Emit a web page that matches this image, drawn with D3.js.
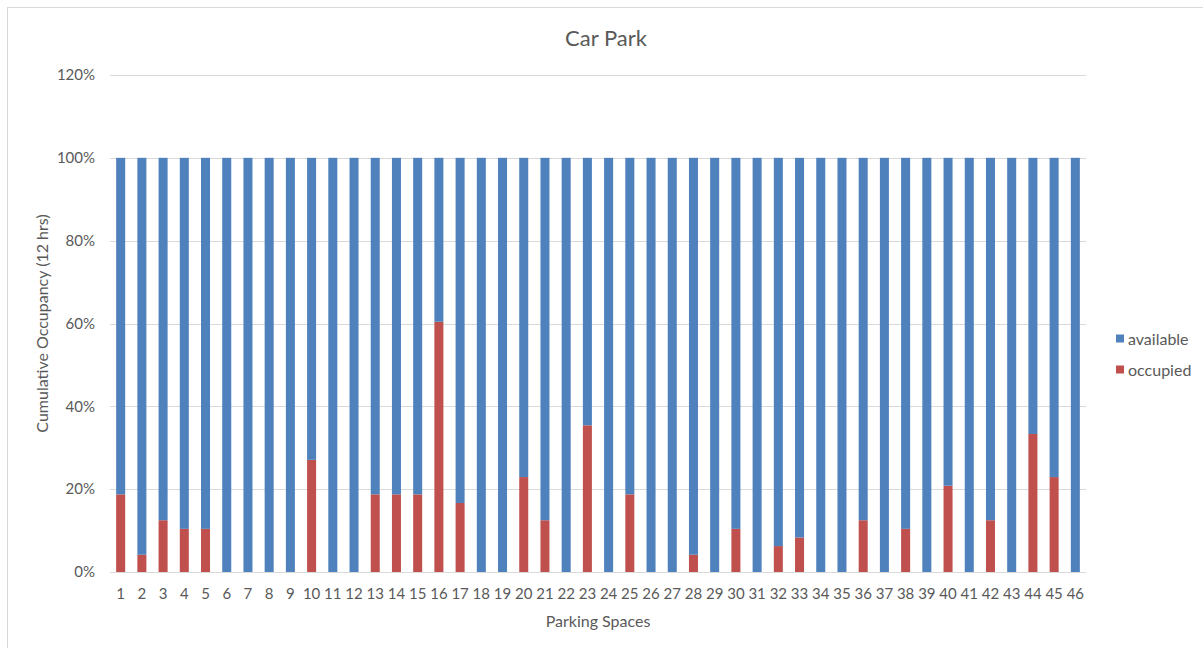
<!DOCTYPE html>
<html>
<head>
<meta charset="utf-8">
<script src="https://cdn.jsdelivr.net/npm/d3@7"></script>
<style>
  html, body { margin: 0; padding: 0; background: #fff; }
  svg text { font-family: Lato, "Open Sans", sans-serif; fill: #595959; }
</style>
</head>
<body>
<svg id="chart" width="1203" height="648"></svg>
<script>
// Parking spaces 1..46
const spaces = d3.range(1, 47).map(String);

// Share of the 12-hour window each space was occupied (%)
const occupied = [
  18.75, 4.17, 12.5, 10.42, 10.42, 0, 0, 0, 0, 27.08,
  0, 0, 18.75, 18.75, 18.75, 60.42, 16.67, 0, 0, 22.92,
  12.5, 0, 35.42, 0, 18.75, 0, 0, 4.17, 0, 10.42,
  0, 6.25, 8.33, 0, 0, 12.5, 0, 10.42, 0, 20.83,
  0, 12.5, 0, 33.33, 22.92, 0
];

// Remainder of the window the space stood free (%)
const available = occupied.map(v => 100 - v);

const yTicks = [0, 20, 40, 60, 80, 100, 120];

const seriesNames = ["occupied", "available"];
const seriesColors = { available: "#4F81BD", occupied: "#C0504D" };
const legendOrder = ["available", "occupied"];

const svg = d3.select("#chart");

// chart frame
svg.append("rect")
  .attr("x", 7.5).attr("y", 7.5)
  .attr("width", 1220).attr("height", 660)
  .attr("fill", "none").attr("stroke", "#D9D9D9").attr("stroke-width", 1);

const margin = { left: 110, right: 1086, top: 75, bottom: 572 };

const x = d3.scaleBand()
  .domain(spaces)
  .range([margin.left, margin.right])
  .paddingInner(0.575)
  .paddingOuter(0.29);

const y = d3.scaleLinear()
  .domain([0, 120])
  .range([margin.bottom, margin.top]);

// gridlines
svg.append("g")
  .selectAll("line")
  .data(yTicks)
  .join("line")
  .attr("x1", margin.left).attr("x2", margin.right)
  .attr("y1", d => Math.round(y(d)) + 0.5).attr("y2", d => Math.round(y(d)) + 0.5)
  .attr("stroke", "#D9D9D9").attr("stroke-width", 1);

// stacked bars
const table = spaces.map((s, i) => ({ space: s, occupied: occupied[i], available: available[i] }));
const stacked = d3.stack().keys(seriesNames)(table);

svg.append("g")
  .selectAll("g")
  .data(stacked)
  .join("g")
  .attr("fill", d => seriesColors[d.key])
  .selectAll("rect")
  .data(d => d)
  .join("rect")
  .attr("x", d => x(d.data.space))
  .attr("width", x.bandwidth())
  .attr("y", d => y(d[1]))
  .attr("height", d => y(d[0]) - y(d[1]));

// y axis
const yAxis = svg.append("g")
  .attr("transform", `translate(${margin.left},0)`)
  .call(d3.axisLeft(y).tickValues(yTicks).tickFormat(d => d + "%").tickSize(0).tickPadding(15));
yAxis.select(".domain").remove();
yAxis.selectAll("text").attr("font-size", 15).style("font-family", "Lato, sans-serif").attr("fill", "#595959");

// x axis
const xAxis = svg.append("g")
  .attr("transform", `translate(0,${margin.bottom})`)
  .call(d3.axisBottom(x).tickSize(0).tickPadding(16));
xAxis.select(".domain").remove();
xAxis.selectAll("text").attr("font-size", 15).style("font-family", "Lato, sans-serif").attr("fill", "#595959");

// title
svg.append("text")
  .attr("x", 606).attr("y", 46)
  .attr("text-anchor", "middle")
  .attr("font-size", 22)
  .text("Car Park");

// axis titles
svg.append("text")
  .attr("x", 598).attr("y", 627)
  .attr("text-anchor", "middle")
  .attr("font-size", 16)
  .text("Parking Spaces");

svg.append("text")
  .attr("transform", `translate(48,${(margin.top + margin.bottom) / 2}) rotate(-90)`)
  .attr("text-anchor", "middle")
  .attr("font-size", 16)
  .text("Cumulative Occupancy (12 hrs)");

// legend
const legend = svg.append("g")
  .selectAll("g")
  .data(legendOrder)
  .join("g")
  .attr("transform", (d, i) => `translate(1116,${339 + i * 31})`);
legend.append("rect")
  .attr("x", 0).attr("y", -4.5)
  .attr("width", 8).attr("height", 8)
  .attr("fill", d => seriesColors[d]);
legend.append("text")
  .attr("x", 12).attr("y", 0)
  .attr("dy", "0.35em")
  .attr("font-size", 16)
  .text(d => d);
</script>
</body>
</html>
